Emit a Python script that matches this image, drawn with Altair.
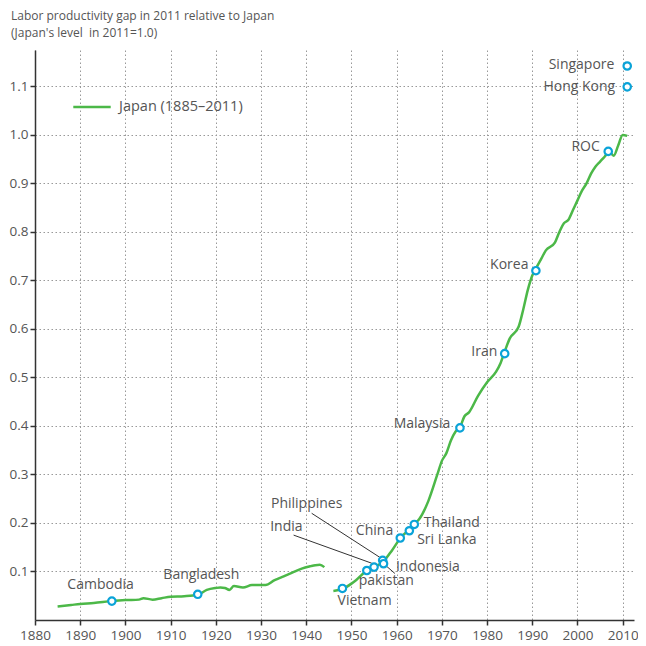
import altair as alt
import pandas as pd

# ---------------- data ----------------
SERIES = "Japan (1885–2011)"

prewar_years = [1885, 1888, 1890, 1893, 1897, 1900, 1903, 1904, 1906, 1908, 1910, 1913,
                1916, 1918, 1920, 1921, 1922, 1923, 1924, 1926, 1928, 1931, 1933, 1935,
                1937, 1939, 1941, 1942, 1943, 1944]
prewar_values = [0.028, 0.031, 0.033, 0.035, 0.039, 0.041, 0.042, 0.045, 0.042, 0.045, 0.048, 0.049,
                 0.052, 0.062, 0.066, 0.067, 0.066, 0.062, 0.070, 0.067, 0.072, 0.072, 0.082, 0.090,
                 0.098, 0.106, 0.111, 0.113, 0.114, 0.109]

postwar_years = [1946, 1948, 1950, 1951, 1953, 1955, 1957, 1959, 1961, 1963, 1964, 1965,
                 1967, 1969, 1970, 1971, 1972, 1973, 1974, 1975, 1976, 1978, 1980, 1982,
                 1983, 1984, 1985, 1987, 1988, 1989, 1990, 1991, 1992, 1993, 1995, 1996,
                 1997, 1998, 1999, 2000, 2001, 2002, 2003, 2004, 2005, 2006, 2007, 2008,
                 2009, 2010, 2011]
postwar_values = [0.060, 0.064, 0.075, 0.082, 0.099, 0.109, 0.120, 0.144, 0.171, 0.188, 0.198, 0.208,
                  0.245, 0.300, 0.328, 0.344, 0.370, 0.388, 0.397, 0.420, 0.428, 0.462, 0.490, 0.512,
                  0.530, 0.556, 0.580, 0.605, 0.640, 0.680, 0.710, 0.728, 0.745, 0.762, 0.778, 0.800,
                  0.818, 0.825, 0.845, 0.865, 0.885, 0.900, 0.920, 0.935, 0.945, 0.955, 0.966, 0.957,
                  0.978, 1.000, 0.998]

countries = ["Cambodia", "Bangladesh", "Vietnam", "pakistan", "India", "Philippines", "Indonesia",
             "China", "Sri Lanka", "Thailand", "Malaysia", "Iran", "Korea", "ROC", "Hong Kong", "Singapore"]
country_years = [1897, 1916, 1948, 1953.4, 1955, 1956.9, 1957.1, 1960.8, 1962.8, 1963.9,
                 1974, 1983.9, 1990.8, 2006.8, 2011, 2011]
country_values = [0.039, 0.053, 0.065, 0.102, 0.109, 0.123, 0.116, 0.169, 0.184, 0.197,
                  0.396, 0.549, 0.720, 0.966, 1.099, 1.142]

x_ticks = [1880, 1890, 1900, 1910, 1920, 1930, 1940, 1950, 1960, 1970, 1980, 1990, 2000, 2010]
y_ticks = [0.1, 0.2, 0.3, 0.4, 0.5, 0.6, 0.7, 0.8, 0.9, 1.0, 1.1]

# annotation placement (label anchors, in data units)
label_x = [1894.5, 1916.8, 1952.9, 1957.7, 1935.6, 1940.1, 1966.9, 1955.1, 1971.1, 1972.2,
           1965.6, 1979.4, 1984.9, 2001.8, 2000.4, 2000.9]
label_y = [0.072, 0.093, 0.040, 0.081, 0.192, 0.239, 0.110, 0.184, 0.165, 0.199,
           0.4035, 0.553, 0.732, 0.976, 1.0996, 1.144]

leader_from_x = [1937.2, 1941.2, 1957.5]
leader_from_y = [0.175, 0.220, 0.113]
leader_to_x = [1954.5, 1956.3, 1959.6]
leader_to_y = [0.117, 0.129, 0.096]

# ---------------- tables ----------------
line_df = pd.DataFrame({
    "year": prewar_years + postwar_years,
    "value": prewar_values + postwar_values,
    "segment": ["pre"] * len(prewar_years) + ["post"] * len(postwar_years),
    "series": [SERIES] * (len(prewar_years) + len(postwar_years)),
})
pts_df = pd.DataFrame({"country": countries, "year": country_years, "value": country_values})
lab_df = pd.DataFrame({"country": countries, "lx": label_x, "ly": label_y})
lead_df = pd.DataFrame({"x": leader_from_x, "y": leader_from_y, "x2": leader_to_x, "y2": leader_to_y})

FONT = "Open Sans"
GREEN = "#4cb848"
CYAN = "#0aa3d8"
TEXT = "#555555"

x_scale = alt.Scale(domain=[1880, 2012.5], nice=False, zero=False)
y_scale = alt.Scale(domain=[0, 1.175], nice=False, zero=False)

x_axis = alt.Axis(values=x_ticks, format="d", title=None, tickSize=5, labelPadding=3,
                  labelOverlap=False, labelFlush=False)
y_axis = alt.Axis(values=y_ticks, format=".1f", title=None, tickSize=5, labelPadding=2,
                  labelOverlap=False, labelFlush=False)

line = alt.Chart(line_df).mark_line(strokeWidth=2.5, interpolate="monotone").encode(
    x=alt.X("year:Q", scale=x_scale, axis=x_axis),
    y=alt.Y("value:Q", scale=y_scale, axis=y_axis),
    color=alt.Color("series:N", scale=alt.Scale(domain=[SERIES], range=[GREEN]),
                    legend=alt.Legend(title=None, orient="none", legendX=37, legendY=37,
                                      symbolType="stroke", symbolSize=1400, symbolStrokeWidth=2.5,
                                      labelFont=FONT, labelFontSize=14.5, labelColor=TEXT,
                                      labelOffset=7)),
    detail="segment:N",
)

leaders = alt.Chart(lead_df).mark_rule(color="#333333", strokeWidth=1).encode(
    x=alt.X("x:Q", scale=x_scale), y=alt.Y("y:Q", scale=y_scale),
    x2="x2:Q", y2="y2:Q",
)

points = alt.Chart(pts_df).mark_point(shape="circle", filled=True, fill="white", stroke=CYAN,
                                      strokeWidth=2.2, size=55, opacity=1).encode(
    x=alt.X("year:Q", scale=x_scale), y=alt.Y("value:Q", scale=y_scale),
)

labels = alt.Chart(lab_df).mark_text(font=FONT, fontSize=14, color=TEXT, align="center",
                                     baseline="middle").encode(
    x=alt.X("lx:Q", scale=x_scale), y=alt.Y("ly:Q", scale=y_scale), text="country:N",
)

chart = alt.layer(line, leaders, points, labels).properties(
    width=599, height=570,
    autosize="none",
    padding={"left": 27, "top": 42, "right": 4, "bottom": 26},
    title=alt.TitleParams(
        text=["Labor productivity gap in 2011 relative to Japan", "(Japan's level\u00a0 in 2011=1.0)"],
        anchor="start", frame="group", dx=-24, offset=10, font=FONT, fontSize=12,
        fontWeight="normal", color=TEXT, lineHeight=17,
    ),
).configure_view(stroke=None).configure_axis(
    domainColor="#333333", domainWidth=1.5, tickColor="#333333", tickWidth=1.5,
    gridColor="#999999", gridDash=[1.5, 2.5], gridWidth=1,
    labelFont=FONT, labelFontSize=13.5, labelColor=TEXT,
)

chart.save("out.html", embed_options={"renderer": "svg", "actions": False})
